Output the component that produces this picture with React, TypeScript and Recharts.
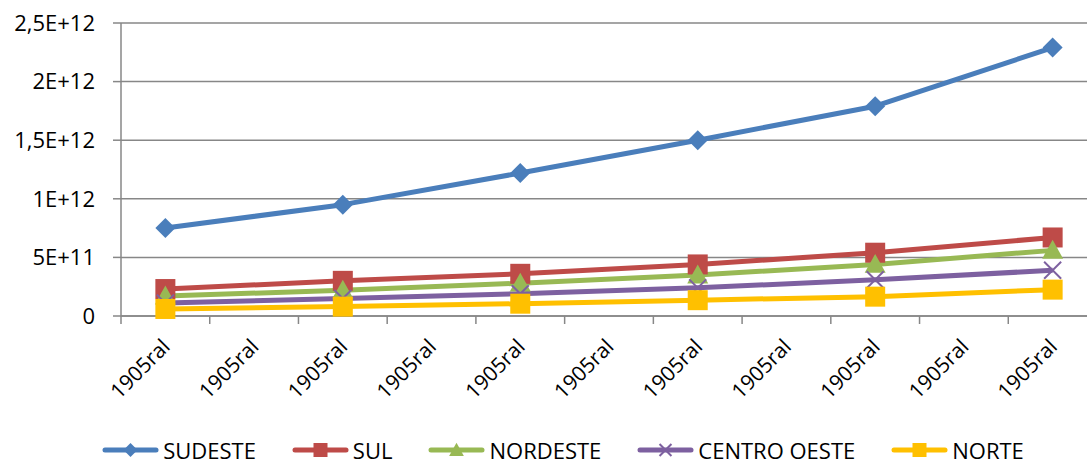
import { LineChart, Line, XAxis, YAxis, CartesianGrid, Legend } from 'recharts';

const categories = [
  '1905ral', '1905ral', '1905ral', '1905ral', '1905ral', '1905ral',
  '1905ral', '1905ral', '1905ral', '1905ral', '1905ral',
];

// one value every other category, as in the source sheet
const sudeste = [7.5e11, 9.5e11, 1.22e12, 1.5e12, 1.79e12, 2.29e12];
const sul = [2.3e11, 3.0e11, 3.6e11, 4.4e11, 5.4e11, 6.7e11];
const nordeste = [1.7e11, 2.2e11, 2.8e11, 3.5e11, 4.4e11, 5.6e11];
const centroOeste = [1.1e11, 1.5e11, 1.9e11, 2.4e11, 3.1e11, 3.9e11];
const norte = [0.6e11, 0.8e11, 1.05e11, 1.35e11, 1.65e11, 2.25e11];

const yTicks = [0, 5e11, 1e12, 1.5e12, 2e12, 2.5e12];
const yTickLabels = ['0', '5E+11', '1E+12', '1,5E+12', '2E+12', '2,5E+12'];

const series = [
  { key: 'SUDESTE', values: sudeste, color: '#4A7EBB', marker: 'diamond' },
  { key: 'SUL', values: sul, color: '#BE4B48', marker: 'square' },
  { key: 'NORDESTE', values: nordeste, color: '#98B954', marker: 'triangle' },
  { key: 'CENTRO OESTE', values: centroOeste, color: '#7D60A0', marker: 'x' },
  { key: 'NORTE', values: norte, color: '#FFC000', marker: 'square' },
];

// category i sits in the middle of its slot on a 0..n axis
const xTicks = categories.map((_, i) => i + 0.5);

const data = categories.map((name, i) => {
  const row: Record<string, any> = { name, pos: i + 0.5 };
  series.forEach((s) => {
    row[s.key] = i % 2 === 0 ? s.values[i / 2] : null;
  });
  return row;
});

const FONT = '"Open Sans", sans-serif';
const GRID = '#878787';
const PLOT_LEFT = 121;
const PLOT_RIGHT = 1097;
const BAND = (PLOT_RIGHT - PLOT_LEFT) / categories.length;

function Marker({
  shape,
  color,
  cx,
  cy,
  s = 1,
}: {
  shape: string;
  color: string;
  cx: number;
  cy: number;
  s?: number;
}) {
  if (shape === 'diamond') {
    const r = 10 * s;
    return <polygon points={`${cx},${cy - r} ${cx + r},${cy} ${cx},${cy + r} ${cx - r},${cy}`} fill={color} />;
  }
  if (shape === 'square') {
    const r = 10 * s;
    return <rect x={cx - r} y={cy - r} width={2 * r} height={2 * r} fill={color} />;
  }
  if (shape === 'triangle') {
    const r = 10.5 * s;
    return (
      <polygon
        points={`${cx},${cy - r} ${cx + r},${cy + r * 0.8} ${cx - r},${cy + r * 0.8}`}
        fill={color}
      />
    );
  }
  const r = 8.5 * s;
  return (
    <g stroke={color} strokeWidth={2}>
      <line x1={cx - r} y1={cy - r} x2={cx + r} y2={cy + r} />
      <line x1={cx - r} y1={cy + r} x2={cx + r} y2={cy - r} />
    </g>
  );
}

const XTick = (props: any) => {
  const { x, y, index } = props;
  return (
    <g>
      <line x1={x - BAND / 2} y1={y} x2={x - BAND / 2} y2={y + 8} stroke={GRID} strokeWidth={1.5} />
      <text
        x={x + 6}
        y={y + 32}
        textAnchor="end"
        transform={`rotate(-45, ${x + 6}, ${y + 32})`}
        fontFamily={FONT}
        fontSize={21}
        fill="#000"
      >
        {categories[index]}
      </text>
    </g>
  );
};

const LegendContent = () => (
  <div
    style={{
      display: 'flex',
      justifyContent: 'center',
      gap: 36,
      fontFamily: FONT,
      fontSize: 22,
      height: 30,
      alignItems: 'center',
      color: '#000',
    }}
  >
    {series.map((s) => (
      <div key={s.key} style={{ display: 'flex', alignItems: 'center', gap: 4 }}>
        <svg width={57} height={22}>
          <line x1={3} y1={11} x2={54} y2={11} stroke={s.color} strokeWidth={5} strokeLinecap="round" />
          <Marker shape={s.marker} color={s.color} cx={28.5} cy={11} s={0.7} />
        </svg>
        <span>{s.key}</span>
      </div>
    ))}
  </div>
);

export default function App() {
  return (
    <div
      style={{
        position: 'absolute',
        left: 0,
        top: 0,
        width: 1087,
        height: 465,
        overflow: 'hidden',
        background: '#fff',
      }}
    >
      <LineChart
        width={1110}
        height={465}
        data={data}
        margin={{ top: 23, right: 1110 - PLOT_RIGHT, left: 0, bottom: 0 }}
      >
        <CartesianGrid vertical={false} stroke={GRID} strokeWidth={1.5} />
        <XAxis
          dataKey="pos"
          type="number"
          domain={[0, categories.length]}
          ticks={xTicks}
          interval={0}
          height={119}
          axisLine={{ stroke: GRID, strokeWidth: 1.5 }}
          tickLine={false}
          tickSize={0}
          tickMargin={0}
          tick={<XTick />}
        />
        <YAxis
          width={PLOT_LEFT}
          domain={[0, 2.5e12]}
          ticks={yTicks}
          interval={0}
          tickFormatter={(v: number) => yTickLabels[yTicks.indexOf(v)]}
          axisLine={{ stroke: GRID, strokeWidth: 1.5 }}
          tickLine={{ stroke: GRID, strokeWidth: 1.5 }}
          tickSize={8}
          tickMargin={18}
          tick={{ fontFamily: FONT, fontSize: 22, fill: '#000' }}
        />
        <Legend
          verticalAlign="bottom"
          content={<LegendContent />}
          wrapperStyle={{ left: 0, width: 1126 }}
        />
        {series.map((s) => (
          <Line
            key={s.key}
            dataKey={s.key}
            name={s.key}
            stroke={s.color}
            strokeWidth={5}
            strokeLinejoin="round"
            connectNulls
            isAnimationActive={false}
            activeDot={false}
            dot={(p: any) =>
              p.value == null || p.cy == null ? (
                <g key={`${s.key}-${p.index}`} />
              ) : (
                <Marker key={`${s.key}-${p.index}`} shape={s.marker} color={s.color} cx={p.cx} cy={p.cy} />
              )
            }
          />
        ))}
      </LineChart>
    </div>
  );
}
